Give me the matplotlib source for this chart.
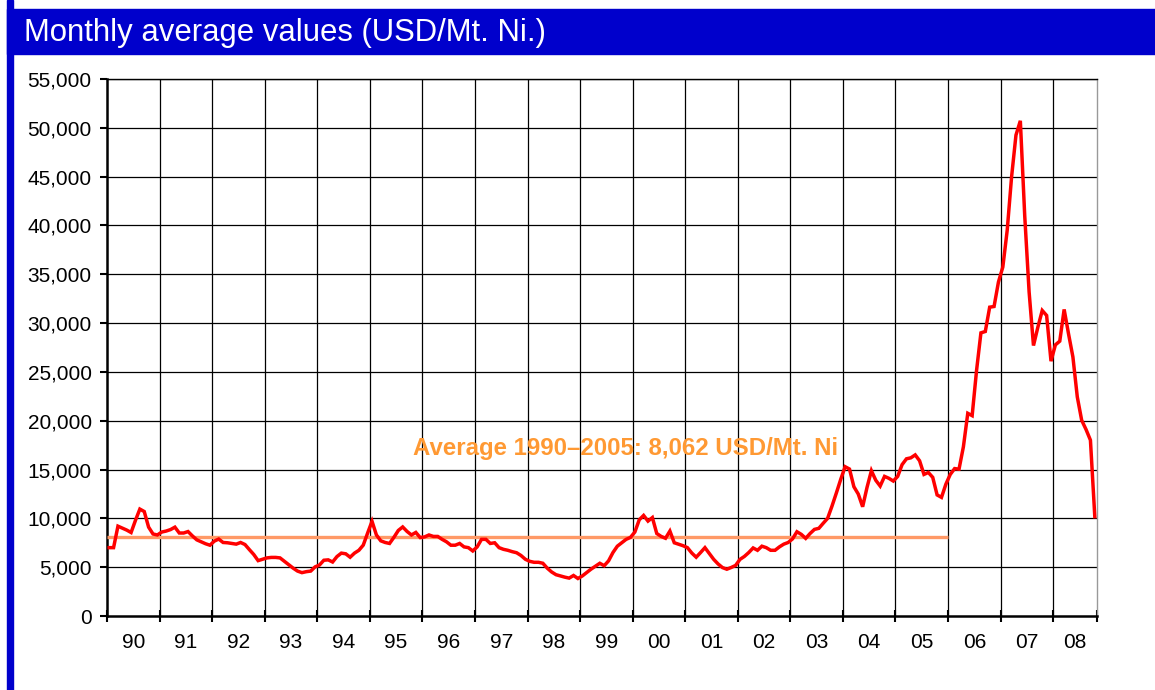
import matplotlib.pyplot as plt
from matplotlib.patches import Rectangle
from matplotlib.ticker import FixedLocator, FuncFormatter

# monthly averages, USD/Mt Ni
p1990 = [7000, 7000, 9200, 9000, 8800, 8550, 9800, 10950, 10700, 9100, 8400, 8300]
p1991 = [8600, 8700, 8850, 9100, 8500, 8500, 8650, 8200, 7800, 7600, 7400, 7250]
p1992 = [7670, 7880, 7530, 7500, 7430, 7360, 7530, 7320, 6800, 6300, 5670, 5810]
p1993 = [5950, 6000, 6000, 5950, 5600, 5250, 4900, 4600, 4440, 4540, 4600, 5030]
p1994 = [5220, 5710, 5750, 5530, 6090, 6440, 6370, 6020, 6440, 6730, 7260, 8500]
p1995 = [9700, 8300, 7700, 7530, 7430, 8060, 8760, 9120, 8660, 8300, 8560, 8030]
p1996 = [8100, 8300, 8150, 8150, 7850, 7600, 7250, 7250, 7430, 7080, 7000, 6660]
p1997 = [7080, 7850, 7850, 7430, 7500, 7000, 6830, 6730, 6590, 6480, 6200, 5810]
p1998 = [5600, 5500, 5500, 5400, 4900, 4510, 4230, 4100, 3980, 3880, 4150, 3840]
p1999 = [4100, 4450, 4800, 5100, 5400, 5150, 5650, 6500, 7150, 7500, 7850, 8050]
p2000 = [8600, 9850, 10300, 9720, 10080, 8450, 8150, 7960, 8700, 7500, 7350, 7200]
p2001 = [7000, 6450, 6020, 6500, 7000, 6400, 5800, 5330, 4960, 4790, 4970, 5180]
p2002 = [5800, 6100, 6500, 6970, 6730, 7150, 7000, 6730, 6730, 7080, 7360, 7530]
p2003 = [7900, 8630, 8360, 7950, 8450, 8870, 8980, 9500, 10000, 11250, 12600, 14000]
p2004 = [15290, 15050, 13240, 12490, 11190, 13170, 14880, 13900, 13310, 14300, 14100, 13820]
p2005 = [14300, 15500, 16100, 16200, 16500, 15900, 14500, 14700, 14200, 12400, 12150, 13500]
p2006 = [14500, 15100, 15040, 17330, 20760, 20520, 25130, 29000, 29140, 31630, 31700, 34200]
p2007 = [35740, 39500, 44970, 49250, 50720, 41000, 33200, 27700, 29580, 31290, 30780, 26100]
p2008 = [27770, 28150, 31400, 28900, 26530, 22440, 20050, 19100, 18010, 10170]

year_labels = ['90', '91', '92', '93', '94', '95', '96', '97', '98', '99',
               '00', '01', '02', '03', '04', '05', '06', '07', '08']
avg_value = 8062
avg_years = 16  # 1990-2005
avg_text = 'Average 1990\u20132005: 8,062 USD/Mt. Ni'

prices = (p1990 + p1991 + p1992 + p1993 + p1994 + p1995 + p1996 + p1997 + p1998
          + p1999 + p2000 + p2001 + p2002 + p2003 + p2004 + p2005 + p2006 + p2007 + p2008)
n = len(prices)
xs = [i + 0.5 for i in range(n)]

plt.rcParams['font.family'] = ['Liberation Sans', 'DejaVu Sans']

fig = plt.figure(figsize=(11.55, 6.9), dpi=100)
W, H = 1155, 690
blue = '#0000CC'
fig.patches.append(Rectangle((7 / W, 0), 6 / W, 1, transform=fig.transFigure, color=blue, zorder=0))
fig.patches.append(Rectangle((7 / W, 1 - 54 / H), 1 - 7 / W, 45 / H, transform=fig.transFigure, color=blue, zorder=0))
fig.text(24 / W, 1 - 33 / H, 'Monthly average values (USD/Mt. Ni.)', color='white',
         fontsize=22.4, va='center', ha='left')

ax = fig.add_axes([107 / W, 1 - 616 / H, (1097 - 107) / W, (616 - 79) / H])
ax.plot(xs, prices, color='#FF0000', lw=2.5, zorder=4, solid_joinstyle='miter')
ax.hlines(avg_value, 0, 12 * avg_years, color='#FF9966', lw=2.4, zorder=3)
ax.text(69.8, 17200, avg_text, color='#FF9933', fontsize=17.3, fontweight='bold',
        va='center', ha='left', zorder=5)

ax.set_xlim(0, n)
ax.set_ylim(0, 55000)

bounds = list(range(0, 12 * (len(year_labels) - 1) + 1, 12))
ax.xaxis.set_major_locator(FixedLocator(bounds + [n]))
ax.xaxis.set_major_formatter(FuncFormatter(lambda v, p: ''))
centers = [b + 6 for b in bounds[:-1]] + [(bounds[-1] + n) / 2]
ax.xaxis.set_minor_locator(FixedLocator(centers))
ax.set_xticklabels(year_labels, minor=True)
ax.tick_params(axis='x', which='major', direction='inout', length=9, width=1.5, color='black')
ax.tick_params(axis='x', which='minor', length=0, pad=12, labelsize=15)

ax.set_yticks(range(0, 55001, 5000))
ax.yaxis.set_major_formatter(FuncFormatter(lambda v, p: f'{int(v):,}'))
ax.tick_params(axis='y', direction='out', length=5, width=1.5, pad=6, labelsize=15)

for b in bounds[1:]:
    ax.axvline(b, color='black', lw=0.9, zorder=1)
for v in range(5000, 55001, 5000):
    ax.axhline(v, color='black', lw=0.9, zorder=1)

for s in ['left', 'bottom']:
    ax.spines[s].set_linewidth(1.8)
    ax.spines[s].set_color('black')
ax.spines['top'].set_linewidth(1.0)
ax.spines['right'].set_color('#999999')
ax.spines['right'].set_linewidth(1.0)

fig.savefig('out.png', dpi=100)
